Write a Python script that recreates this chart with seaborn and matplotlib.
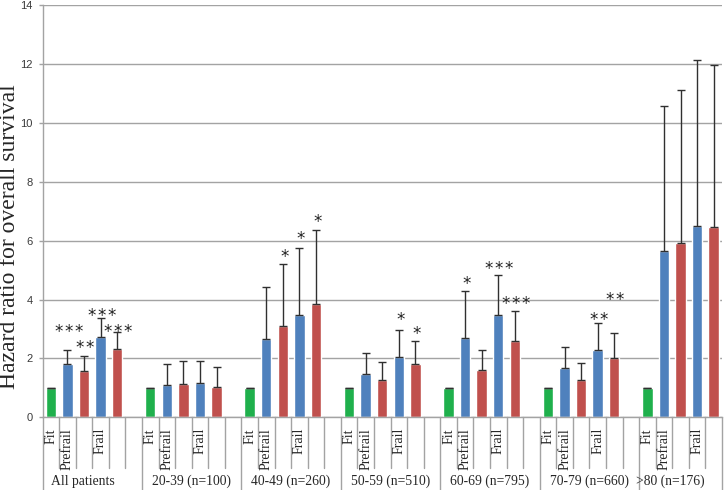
import matplotlib
matplotlib.use("Agg")
import matplotlib.pyplot as plt
import numpy as np
import pandas as pd
import seaborn as sns

groups = ["All patients", "20-39 (n=100)", "40-49 (n=260)", "50-59 (n=510)",
          "60-69 (n=795)", "70-79 (n=660)", ">80 (n=176)"]
slot_labels = ["Fit", "Prefrail", "", "Frail", ""]
series = ["fit", "prefrail_a", "prefrail_b", "frail_a", "frail_b"]
series_colors = ["green", "blue", "red", "blue", "red"]

fit_hr = [1.0, 1.0, 1.0, 1.0, 1.0, 1.0, 1.0]
fit_upper = [1.0, 1.0, 1.0, 1.0, 1.0, 1.0, 1.0]
prefrail_a_hr = [1.80, 1.08, 2.66, 1.47, 2.70, 1.69, 5.63]
prefrail_a_upper = [2.28, 1.82, 4.42, 2.17, 4.30, 2.40, 10.57]
prefrail_b_hr = [1.57, 1.12, 3.10, 1.28, 1.61, 1.28, 5.93]
prefrail_b_upper = [2.09, 1.92, 5.19, 1.89, 2.29, 1.83, 11.12]
frail_a_hr = [2.71, 1.15, 3.49, 2.05, 3.48, 2.30, 6.51]
frail_a_upper = [3.36, 1.92, 5.76, 2.96, 4.84, 3.21, 12.14]
frail_b_hr = [2.32, 1.03, 3.84, 1.80, 2.58, 2.03, 6.46]
frail_b_upper = [2.89, 1.72, 6.36, 2.60, 3.60, 2.85, 11.96]

# significance marks: (group index, slot index, stars, height of mark)
star_group = [0, 0, 0, 0, 2, 2, 2, 3, 3, 4, 4, 4, 5, 5]
star_slot = [1, 2, 3, 4, 2, 3, 4, 3, 4, 1, 3, 4, 3, 4]
star_text = ["***", "**", "***", "***", "*", "*", "*", "*", "*", "*", "***", "***", "**", "**"]
star_y = [3.06, 2.51, 3.59, 3.06, 5.59, 6.20, 6.80, 3.48, 2.99, 4.67, 5.18, 4.00, 3.45, 4.16]

palette = {"green": "#1fb04c", "blue": "#4f81bd", "red": "#c0504d"}
grey = "#a3a3a3"

hr_values = [fit_hr, prefrail_a_hr, prefrail_b_hr, frail_a_hr, frail_b_hr]
upper_values = [fit_upper, prefrail_a_upper, prefrail_b_upper, frail_a_upper, frail_b_upper]

rows = []
for g in range(len(groups)):
    for k, name in enumerate(series):
        rows.append({"pos": g * 6 + k, "series": name, "color": series_colors[k],
                     "hr": hr_values[k][g], "upper": upper_values[k][g]})
df = pd.DataFrame(rows)

sns.set_style("white")
plt.rcParams["font.family"] = ["Liberation Serif", "DejaVu Serif"]

fig = plt.figure(figsize=(7.24, 4.9), dpi=100)
ax = fig.add_axes([42.5 / 724, 1 - 417.3 / 490, 679.5 / 724, 412.3 / 490])

sns.barplot(data=df, x="pos", y="hr", hue="color", palette=palette, native_scale=True,
            dodge=False, width=0.63, legend=False, saturation=1, ax=ax, zorder=2)
ax.errorbar(df["pos"], df["hr"], yerr=[np.zeros(len(df)), df["upper"] - df["hr"]],
            fmt="none", ecolor="#303030", elinewidth=1.0, capsize=3.2, capthick=1.0, zorder=3)

for g, k, t, y in zip(star_group, star_slot, star_text, star_y):
    ax.annotate("\u200a".join(t), (g * 6 + k, y), xytext=(1.0, -7.0), textcoords="offset points",
                ha="center", va="baseline", fontsize=12, family="DejaVu Sans",
                color="#202020")

ax.set_xlim(-0.5, 40.5)
ax.set_ylim(0, 14)
ax.set_yticks(range(0, 15, 2))
ax.yaxis.grid(True, color=grey, linewidth=1.0)
ax.set_axisbelow(True)
ax.set_xticks([])
ax.set_xlabel("")
ax.set_ylabel("")
for side in ["top", "right"]:
    ax.spines[side].set_visible(False)
for side in ["left", "bottom"]:
    ax.spines[side].set_color(grey)
    ax.spines[side].set_linewidth(1.0)
ax.tick_params(axis="y", left=True, length=3, width=1, color=grey, pad=4,
               labelsize=8, labelcolor="#3a3a3a")
for lab in ax.get_yticklabels():
    lab.set_family("Liberation Sans")

# category table under the axis
trans = ax.get_xaxis_transform()
label_centre = [1.95, 2.5, 2.5, 2.5, 2.5, 2.5, 1.4]
for g in range(len(groups)):
    n_slots = 6 if g < len(groups) - 1 else 5
    ax.plot([g * 6 - 0.5] * 2, [0, -0.25], color=grey, lw=1.0, transform=trans, clip_on=False)
    for k in range(1, n_slots):
        ax.plot([g * 6 + k - 0.5] * 2, [0, -0.123], color=grey, lw=1.0, transform=trans, clip_on=False)
    for k, lab in enumerate(slot_labels):
        if lab:
            ax.text(g * 6 + k, -0.026, lab, rotation=90, ha="center", va="top",
                    fontsize=10, transform=trans)
    ax.text(g * 6 + label_centre[g], -0.155, groups[g], ha="center", va="center",
            fontsize=9.8, transform=trans)
ax.plot([40.5] * 2, [0, -0.25], color=grey, lw=1.0, transform=trans, clip_on=False)

fig.text(10 / 724, 1 - 236.5 / 490, "Hazard ratio for overall survival", rotation=90,
         ha="center", va="center", fontsize=17)

fig.savefig("out.png", dpi=100)
